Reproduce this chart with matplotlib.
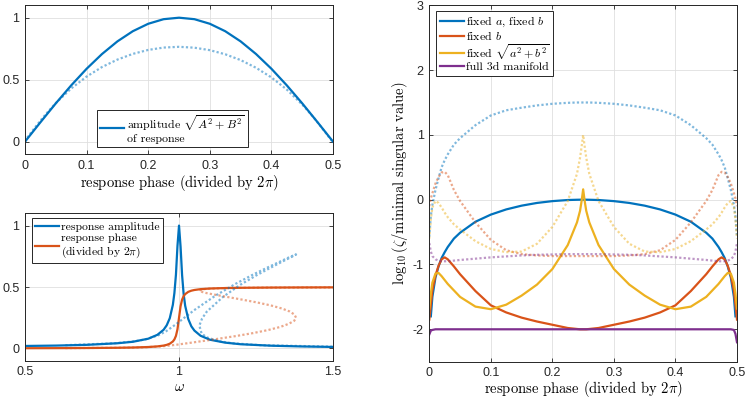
import numpy as np
import matplotlib

matplotlib.use("Agg")
import matplotlib.pyplot as plt

plt.rcParams["mathtext.fontset"] = "cm"
plt.rcParams["font.family"] = ["Liberation Sans", "DejaVu Sans"]

BLUE = "#0072BD"
RED = "#D95319"
YELLOW = "#EDB120"
PURPLE = "#7E2F8E"
AX_COLOR = "#262626"
DOT = (0, (1, 1))
CM = "cmr10"

# ---- top left: amplitude vs response phase
phase_lin = [0.0, 0.025, 0.05, 0.075, 0.1, 0.125, 0.15, 0.175, 0.2, 0.225, 0.25,
             0.275, 0.3, 0.325, 0.35, 0.375, 0.4, 0.425, 0.45, 0.475, 0.5]
amp_vs_phase = [0.0, 0.156, 0.309, 0.454, 0.588, 0.707, 0.809, 0.891, 0.951, 0.988, 1.0,
                0.988, 0.951, 0.891, 0.809, 0.707, 0.588, 0.454, 0.309, 0.156, 0.0]

# nonlinear response, parametrised by phase
phase_nl = [0.0, 0.0025, 0.005, 0.0075, 0.01, 0.015, 0.02, 0.03, 0.04, 0.05, 0.075, 0.1,
            0.125, 0.15, 0.175, 0.2, 0.225, 0.25, 0.275, 0.3, 0.325, 0.35, 0.375, 0.4,
            0.425, 0.45, 0.46, 0.47, 0.48, 0.485, 0.49, 0.4925, 0.495, 0.4975, 0.5]
omega_nl = [np.nan, 0.631, 0.791, 0.856, 0.892, 0.933, 0.957, 0.992, 1.021, 1.049, 1.118, 1.183,
            1.241, 1.290, 1.329, 1.356, 1.374, 1.380, 1.375, 1.360, 1.334, 1.298, 1.252, 1.199,
            1.143, 1.090, 1.075, 1.066, 1.073, 1.089, 1.129, 1.173, 1.267, 1.586, np.nan]
amp_nl = [0.0, 0.026, 0.042, 0.058, 0.074, 0.107, 0.138, 0.200, 0.257, 0.311, 0.429, 0.525,
          0.602, 0.662, 0.708, 0.740, 0.759, 0.765, 0.758, 0.738, 0.705, 0.658, 0.596, 0.518,
          0.420, 0.299, 0.244, 0.186, 0.123, 0.091, 0.059, 0.042, 0.026, 0.010, 0.0]

# ---- bottom left: linear response vs omega
omega_lin = [0.5, 0.6, 0.7, 0.8, 0.85, 0.9, 0.93, 0.95, 0.96, 0.97, 0.98, 0.985, 0.99, 0.995,
             1.0, 1.005, 1.01, 1.015, 1.02, 1.03, 1.04, 1.05, 1.07, 1.1, 1.15, 1.2, 1.3, 1.4, 1.5]
amp_lin = [0.020, 0.023, 0.029, 0.042, 0.054, 0.079, 0.111, 0.152, 0.188, 0.246, 0.355, 0.451,
           0.600, 0.835, 1.000, 0.830, 0.596, 0.443, 0.347, 0.239, 0.180, 0.145, 0.103, 0.071,
           0.047, 0.034, 0.022, 0.016, 0.012]
phase_of_omega = [0.0016, 0.0022, 0.0033, 0.0053, 0.0073, 0.0113, 0.0164, 0.0231, 0.0289, 0.0384,
                  0.0565, 0.0732, 0.102, 0.156, 0.25, 0.343, 0.397, 0.426, 0.442, 0.4605, 0.470,
                  0.4757, 0.4825, 0.4875, 0.4915, 0.4935, 0.4955, 0.4965, 0.4971]

# ---- right: log10(zeta / minimal singular value)
phase_r = [0.0, 0.0025, 0.005, 0.01, 0.015, 0.02, 0.025, 0.03, 0.04, 0.05, 0.075, 0.1, 0.125,
           0.15, 0.175, 0.2, 0.225, 0.24, 0.245, 0.2475, 0.25, 0.2525, 0.255, 0.26, 0.275, 0.3,
           0.325, 0.35, 0.375, 0.4, 0.425, 0.45, 0.46, 0.47, 0.475, 0.48, 0.485, 0.49, 0.495,
           0.4975, 0.5]
fixed_ab = [np.nan, -1.80, -1.50, -1.20, -1.03, -0.90, -0.81, -0.73, -0.60, -0.51, -0.34, -0.23,
            -0.15, -0.092, -0.050, -0.022, -0.005, -0.001, 0.0, 0.0, 0.0, 0.0, 0.0, -0.001, -0.005,
            -0.022, -0.050, -0.092, -0.15, -0.23, -0.34, -0.51, -0.60, -0.73, -0.81, -0.90, -1.03,
            -1.20, -1.50, -1.80, np.nan]
fixed_b = [-1.85, -1.62, -1.40, -1.17, -1.02, -0.92, -0.89, -0.92, -1.03, -1.15, -1.41, -1.63,
           -1.74, -1.82, -1.88, -1.93, -1.98, -1.995, -2.0, -2.0, -2.0, -2.0, -2.0, -1.995, -1.98,
           -1.93, -1.88, -1.82, -1.74, -1.63, -1.41, -1.15, -1.03, -0.92, -0.89, -0.92, -1.02,
           -1.17, -1.40, -1.62, -1.85]
fixed_norm = [-1.68, -1.45, -1.28, -1.14, -1.13, -1.18, -1.24, -1.30, -1.40, -1.50, -1.65, -1.69,
              -1.62, -1.48, -1.31, -1.07, -0.70, -0.35, -0.17, -0.02, 0.16, -0.02, -0.17, -0.35,
              -0.70, -1.07, -1.31, -1.48, -1.62, -1.69, -1.65, -1.50, -1.40, -1.30, -1.24, -1.18,
              -1.13, -1.14, -1.28, -1.45, -1.68]
full_3d = [-2.08, -2.02, -2.01, -2.0, -2.0, -2.0, -2.0, -2.0, -2.0, -2.0, -2.0, -2.0, -2.0,
           -2.0, -2.0, -2.0, -2.0, -2.0, -2.0, -2.0, -2.0, -2.0, -2.0, -2.0, -2.0, -2.0,
           -2.0, -2.0, -2.0, -2.0, -2.0, -2.0, -2.0, -2.0, -2.0, -2.0, -2.0, -2.0, -2.01,
           -2.07, -2.20]
fixed_ab_nl = [-0.57, -0.25, -0.08, 0.15, 0.33, 0.50, 0.61, 0.70, 0.85, 0.95, 1.15, 1.30, 1.38,
               1.42, 1.455, 1.48, 1.495, 1.50, 1.50, 1.50, 1.50, 1.50, 1.50, 1.50, 1.495, 1.48,
               1.455, 1.42, 1.38, 1.30, 1.15, 0.95, 0.85, 0.70, 0.61, 0.50, 0.33, 0.15, -0.08,
               -0.25, -0.57]
fixed_b_nl = [-0.10, 0.02, 0.10, 0.25, 0.35, 0.42, 0.43, 0.38, 0.15, -0.02, -0.35, -0.62, -0.78,
              -0.84, -0.86, -0.87, -0.87, -0.87, -0.87, -0.87, -0.87, -0.87, -0.87, -0.87, -0.87,
              -0.87, -0.86, -0.84, -0.78, -0.62, -0.35, -0.02, 0.15, 0.38, 0.43, 0.42, 0.35, 0.25,
              0.10, 0.02, -0.10]
fixed_norm_nl = [-0.60, -0.30, -0.12, -0.02, -0.05, -0.12, -0.20, -0.27, -0.38, -0.46, -0.64,
                 -0.76, -0.81, -0.80, -0.68, -0.42, -0.02, 0.40, 0.65, 0.82, 1.0, 0.82, 0.65, 0.40,
                 -0.02, -0.42, -0.68, -0.80, -0.81, -0.76, -0.64, -0.46, -0.38, -0.27, -0.20,
                 -0.12, -0.05, -0.02, -0.12, -0.30, -0.60]
full_3d_nl = [-0.67, -0.80, -0.87, -0.92, -0.94, -0.95, -0.95, -0.95, -0.94, -0.93, -0.91, -0.89,
              -0.875, -0.86, -0.85, -0.845, -0.84, -0.84, -0.84, -0.84, -0.84, -0.84, -0.84,
              -0.84, -0.84, -0.845, -0.85, -0.86, -0.875, -0.89, -0.91, -0.93, -0.94, -0.95,
              -0.95, -0.95, -0.94, -0.92, -0.87, -0.80, -0.67]


def style(ax):
    ax.tick_params(direction="in", top=True, right=True, labelsize=9, colors=AX_COLOR,
                   length=3, width=0.6, pad=4)
    for s in ax.spines.values():
        s.set_color(AX_COLOR)
        s.set_linewidth(0.7)
    ax.grid(True, color="#dfdfdf", linewidth=0.6)
    ax.set_axisbelow(True)


def legend(ax, loc, anchor, size=8.6, spacing=0.15):
    leg = ax.legend(loc=loc, bbox_to_anchor=anchor, borderaxespad=0,
                    prop={"family": CM, "size": size},
                    fancybox=False, framealpha=1, edgecolor=AX_COLOR, handlelength=2.0,
                    handletextpad=0.2, borderpad=0.3, labelspacing=spacing)
    leg.get_frame().set_linewidth(0.7)
    for t in leg.get_texts():
        t.set_linespacing(1.1)
    return leg


fig = plt.figure(figsize=(7.47, 3.99), dpi=100)

ax1 = fig.add_axes([0.0335, 0.614, 0.4123, 0.3727])
ax1.plot(phase_lin, amp_vs_phase, color=BLUE, lw=1.6,
         label="amplitude $\\sqrt{A^2+B^2}$\nof response")
ax1.plot(phase_nl, amp_nl, color=BLUE, lw=1.6, ls=DOT, alpha=0.5)
ax1.set_xlim(0, 0.5)
ax1.set_ylim(-0.1, 1.1)
ax1.set_xticks([0, 0.1, 0.2, 0.3, 0.4, 0.5])
ax1.set_xticklabels(["0", "0.1", "0.2", "0.3", "0.4", "0.5"])
ax1.set_yticks([0, 0.5, 1])
ax1.set_yticklabels(["0", "0.5", "1"])
ax1.set_xlabel("response phase (divided by $2\\pi$)", family=CM, fontsize=10.5, labelpad=1)
style(ax1)
legend(ax1, "lower left", (0.233, 0.045))

ax2 = fig.add_axes([0.0335, 0.096, 0.4123, 0.3694])
ax2.plot(omega_lin, amp_lin, color=BLUE, lw=1.6, label="response amplitude")
ax2.plot(omega_lin, phase_of_omega, color=RED, lw=1.6,
         label="response phase\n(divided by $2\\pi$)")
ax2.plot(omega_nl, amp_nl, color=BLUE, lw=1.6, ls=DOT, alpha=0.5)
ax2.plot(omega_nl, phase_nl, color=RED, lw=1.6, ls=DOT, alpha=0.5)
ax2.set_xlim(0.5, 1.5)
ax2.set_ylim(-0.1, 1.1)
ax2.set_xticks([0.5, 1, 1.5])
ax2.set_xticklabels(["0.5", "1", "1.5"])
ax2.set_yticks([0, 0.5, 1])
ax2.set_yticklabels(["0", "0.5", "1"])
ax2.set_xlabel("$\\omega$", fontsize=10.5, labelpad=1)
style(ax2)
legend(ax2, "upper left", (0.022, 0.966), size=8.4)

ax3 = fig.add_axes([0.5747, 0.0935, 0.4119, 0.8932])
ax3.plot(phase_r, fixed_ab, color=BLUE, lw=1.6, label="fixed $a$, fixed $b$")
ax3.plot(phase_r, fixed_b, color=RED, lw=1.6, label="fixed $b$")
ax3.plot(phase_r, fixed_norm, color=YELLOW, lw=1.6, label="fixed $\\sqrt{a^2+b^2}$")
ax3.plot(phase_r, full_3d, color=PURPLE, lw=1.6, label="full 3d manifold")
ax3.plot(phase_r, fixed_ab_nl, color=BLUE, lw=1.6, ls=DOT, alpha=0.5)
ax3.plot(phase_r, fixed_b_nl, color=RED, lw=1.6, ls=DOT, alpha=0.5)
ax3.plot(phase_r, fixed_norm_nl, color=YELLOW, lw=1.6, ls=DOT, alpha=0.5)
ax3.plot(phase_r, full_3d_nl, color=PURPLE, lw=1.6, ls=DOT, alpha=0.5)
ax3.set_xlim(0, 0.5)
ax3.set_ylim(-2.5, 3)
ax3.set_xticks([0, 0.1, 0.2, 0.3, 0.4, 0.5])
ax3.set_xticklabels(["0", "0.1", "0.2", "0.3", "0.4", "0.5"])
ax3.set_yticks([-2.5, -2, -1, 0, 1, 2, 3])
ax3.set_yticklabels(["", "-2", "-1", "0", "1", "2", "3"])
ax3.set_xlabel("response phase (divided by $2\\pi$)", family=CM, fontsize=10.5, labelpad=0)
ax3.set_ylabel("$\\log_{10}(\\zeta/$minimal singular value$)$", family=CM, fontsize=10.5,
               labelpad=2)
style(ax3)
legend(ax3, "upper left", (0.022, 0.984), spacing=0.0)

fig.savefig("out.png", dpi=100)
